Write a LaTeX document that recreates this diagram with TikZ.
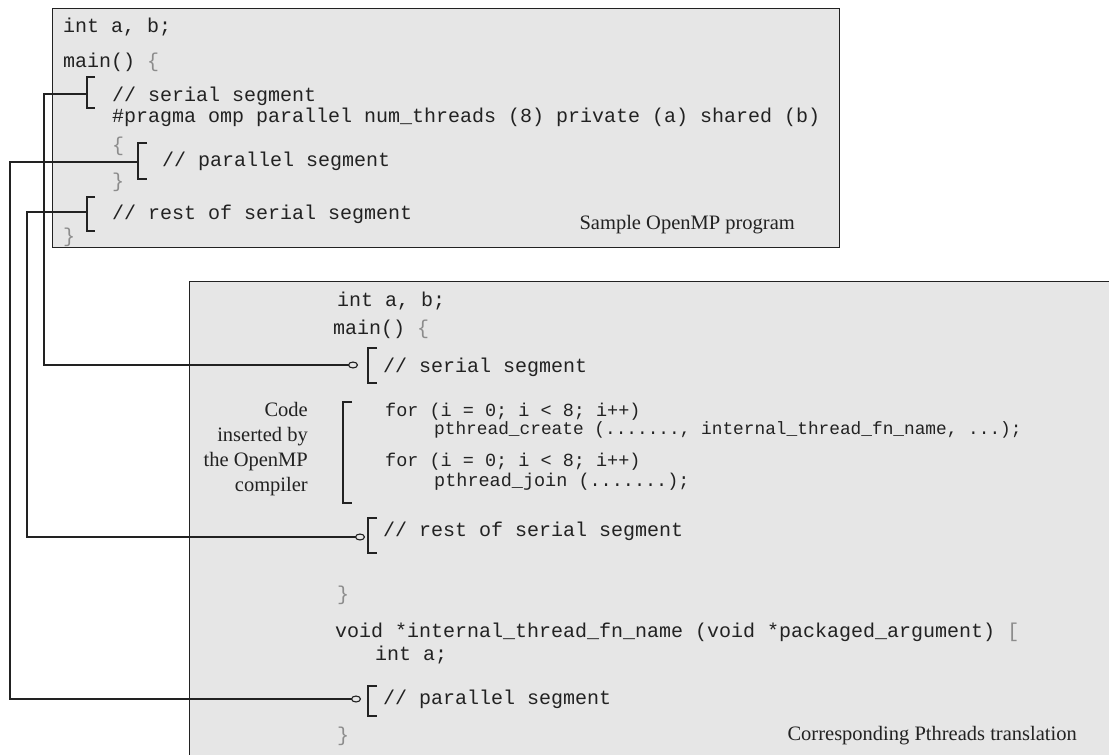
\documentclass[tikz,border=0pt]{standalone}
\usepackage{fontspec}
\setmainfont{Liberation Serif}
\setmonofont{Liberation Mono}
\usetikzlibrary{arrows.meta}
\definecolor{boxfill}{HTML}{E6E6E6}
\definecolor{ink}{HTML}{222222}
\definecolor{brc}{HTML}{8C8C8C}
\begin{document}
\begin{tikzpicture}[x=1pt,y=-1pt,
  box/.style={draw=ink, line width=1.3pt, fill=boxfill, inner sep=0pt, anchor=north west},
  code/.style={anchor=west, inner sep=0pt, font=\fontsize{20}{24}\selectfont\ttfamily, text=ink, text height=11pt, text depth=3pt},
  smallcode/.style={code, font=\fontsize{18.5}{22}\selectfont\ttfamily},
  brace/.style={code, text=brc},
  label/.style={anchor=east, inner sep=0pt, font=\fontsize{20.5}{25}\selectfont, text=ink, text height=11pt, text depth=3pt},
  multilabel/.style={anchor=east, inner sep=0pt, font=\fontsize{20.5}{25}\selectfont, text=ink, align=right},
  brk/.style={draw=ink, line width=1.2pt},
  conn/.style={draw=ink, line width=1.1pt},
  tip/.style={conn, -{Circle[open, length=10pt, width=7pt, line width=1.1pt]}}
]
\useasboundingbox (0,0) rectangle (1109,755);
\clip (0,0) rectangle (1109,755);
\fill[white] (0,0) rectangle (1109,755);

% ---------- top box: Sample OpenMP program ----------
\node[box, minimum width=787pt, minimum height=239pt] (top) at (52,8) {};
\node[code] (ta) at (63,28) {int a, b;};
\node[code] (tm) at (63,63) {main() \textcolor{brc}{\{}};
\node[code] (ts) at (112,97) {// serial segment};
\node[code] (tp) at (112,118) {\#pragma omp parallel num\_threads (8) private (a) shared (b)};
\node[brace] (tob) at (112,147) {\{};
\node[code] (tpar) at (162,162) {// parallel segment};
\node[brace] (tcb) at (112,183) {\}};
\node[code] (tr) at (112,215) {// rest of serial segment};
\node[brace] (tend) at (63,238) {\}};
\node[label] (tlab) at (795,225) {Sample OpenMP program};

% brackets in top box
\draw[brk] (95,77) -- (87,77) -- (87,108) -- (95,108);
\coordinate (s1) at (87,94);
\draw[brk] (147,143) -- (138,143) -- (138,179) -- (147,179);
\coordinate (s2) at (138,162);
\draw[brk] (95,197) -- (87,197) -- (87,231) -- (95,231);
\coordinate (s3) at (87,212);

% ---------- bottom box: Pthreads translation ----------
\node[box, minimum width=940pt, minimum height=490pt] (bot) at (189,281) {};
\node[code] (ba) at (337,302) {int a, b;};
\node[code] (bm) at (333,330) {main() \textcolor{brc}{\{}};
\node[code] (bs) at (383,368) {// serial segment};
\node[multilabel] (ins) at (308,449) {Code\\inserted by\\the OpenMP\\compiler};
\node[smallcode] (f1) at (385,412) {for (i = 0; i < 8; i++)};
\node[code, font=\fontsize{17.8}{22}\selectfont\ttfamily] (pc) at (434,430) {pthread\_create (......., internal\_thread\_fn\_name, ...);};
\node[smallcode] (f2) at (385,462) {for (i = 0; i < 8; i++)};
\node[smallcode] (pj) at (434,482) {pthread\_join (.......);};
\node[code] (br) at (383,532) {// rest of serial segment};
\node[brace] (bcb) at (337,596) {\}};
\node[code] (bv) at (335,633) {void *internal\_thread\_fn\_name (void *packaged\_argument) \textcolor{brc}{[}};
\node[code] (bi) at (375,656) {int a;};
\node[code] (bp) at (383,700) {// parallel segment};
\node[brace] (bce) at (337,737) {\}};
\node[label] (blab) at (1077,736) {Corresponding Pthreads translation};

% brackets in bottom box
\draw[brk] (377,348) -- (368,348) -- (368,383) -- (377,383);
\coordinate (t1) at (358,365);
\draw[brk] (352,402) -- (343,402) -- (343,503) -- (352,503);
\draw[brk] (377,518) -- (368,518) -- (368,553) -- (377,553);
\coordinate (t3) at (365,537);
\draw[brk] (377,686) -- (368,686) -- (368,716) -- (377,716);
\coordinate (t2) at (361,699);

% ---------- connectors ----------
\coordinate (x1) at (44,300);
\coordinate (x2) at (10,400);
\coordinate (x3) at (27,350);
\draw[tip] (s1) -| (x1) |- (t1);
\draw[tip] (s2) -| (x2) |- (t2);
\draw[tip] (s3) -| (x3) |- (t3);
\end{tikzpicture}
\end{document}
